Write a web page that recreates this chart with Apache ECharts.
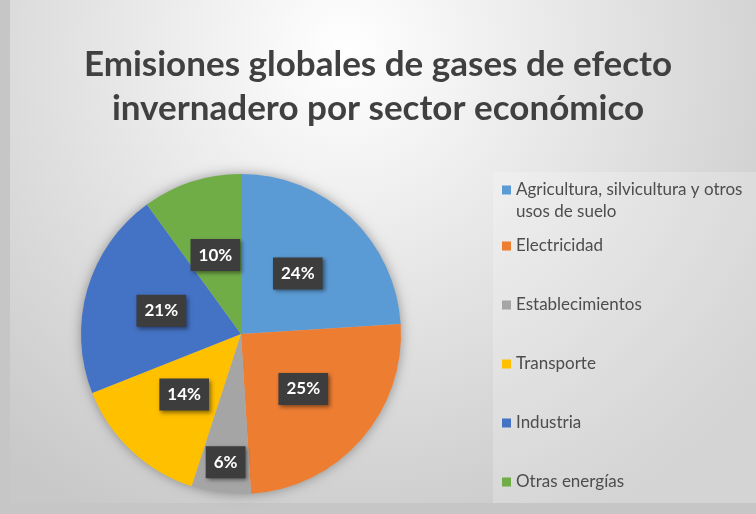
<!DOCTYPE html>
<html>
<head>
<meta charset="utf-8">
<script src="https://cdn.jsdelivr.net/npm/echarts@6/dist/echarts.min.js"></script>
<style>
  html, body { margin: 0; padding: 0; background: #c6c6c6; }
  #chart { width: 756px; height: 514px; }
</style>
</head>
<body>
<div id="chart"></div>
<script>
// Sectores y su participación (%) en las emisiones globales
const sectores = [
  'Agricultura, silvicultura y otros usos de suelo',
  'Electricidad',
  'Establecimientos',
  'Transporte',
  'Industria',
  'Otras energías'
];
const porcentajes = [24, 25, 6, 14, 21, 10];
const colores = ['#5B9BD5', '#ED7D31', '#A5A5A5', '#FFC000', '#4472C4', '#70AD47'];
const titulo = 'Emisiones globales de gases de efecto\ninvernadero por sector económico';

const chart = echarts.init(document.getElementById('chart'));

const FONT = 'Lato';
const CENTER = [241, 334];
const RADIUS = 160;

const datos = sectores.map((nombre, i) => {
  const item = { name: nombre, value: porcentajes[i], itemStyle: { color: colores[i] } };
  // la etiqueta del sector pequeño va más cerca del borde
  if (nombre === 'Establecimientos') {
    item.label = { offset: [-5, 46] };
  }
  return item;
});

const legendText = {
  fontFamily: FONT,
  fontSize: 17,
  color: '#4d4d4d',
  lineHeight: 22
};

chart.setOption({
  backgroundColor: '#c6c6c6',
  animation: false,
  graphic: [
    {
      type: 'rect',
      z: -10,
      shape: { x: 10, y: 0, width: 746, height: 503 },
      style: {
        fill: {
          type: 'radial', x: 0.45, y: 0.1, r: 1.05,
          colorStops: [
            { offset: 0, color: '#ffffff' },
            { offset: 0.45, color: '#e6e6e6' },
            { offset: 1, color: '#c8c8c8' }
          ]
        }
      }
    },
    {
      type: 'rect',
      z: -9,
      shape: { x: 493, y: 172, width: 263, height: 331 },
      style: { fill: 'rgba(255,255,255,0.22)' }
    }
  ],
  title: {
    text: titulo,
    left: 'center',
    top: 43,
    padding: 0,
    textStyle: {
      fontFamily: FONT,
      fontWeight: 'bold',
      fontSize: 35,
      lineHeight: 44,
      color: '#404040'
    }
  },
  legend: [
    {
      // primera entrada en dos líneas; el marcador queda a la altura de la primera
      data: [sectores[0]],
      orient: 'vertical',
      left: 502,
      top: 157,
      padding: 0,
      icon: 'rect',
      itemWidth: 9,
      itemHeight: 9,
      selectedMode: false,
      formatter: n => '\n' + n.replace(' usos', '\nusos'),
      textStyle: legendText
    },
    {
      data: sectores.slice(1),
      orient: 'vertical',
      left: 502,
      top: 235,
      padding: 0,
      icon: 'rect',
      itemWidth: 9,
      itemHeight: 9,
      itemGap: 37,
      selectedMode: false,
      textStyle: legendText
    }
  ],
  series: [
    {
      // sombra suave detrás del círculo
      type: 'pie',
      silent: true,
      center: CENTER,
      radius: RADIUS,
      z: 1,
      label: { show: false },
      labelLine: { show: false },
      itemStyle: {
        color: '#bdbdbd',
        shadowBlur: 12,
        shadowColor: 'rgba(0,0,0,0.35)'
      },
      data: [{ value: 1, name: '' }],
      legendHoverLink: false
    },
    {
      type: 'pie',
      center: CENTER,
      radius: RADIUS,
      startAngle: 90,
      clockwise: true,
      z: 2,
      data: datos,
      itemStyle: { borderWidth: 0 },
      labelLine: { show: false },
      label: {
        show: true,
        position: 'inside',
        formatter: '{c}%',
        fontFamily: FONT,
        fontWeight: 'bold',
        fontSize: 17,
        color: '#ffffff',
        backgroundColor: '#3d3d3d',
        padding: [8, 8, 7, 8],
        shadowBlur: 4,
        shadowColor: 'rgba(0,0,0,0.45)',
        shadowOffsetX: 2,
        shadowOffsetY: 2
      }
    }
  ]
});
</script>
</body>
</html>
